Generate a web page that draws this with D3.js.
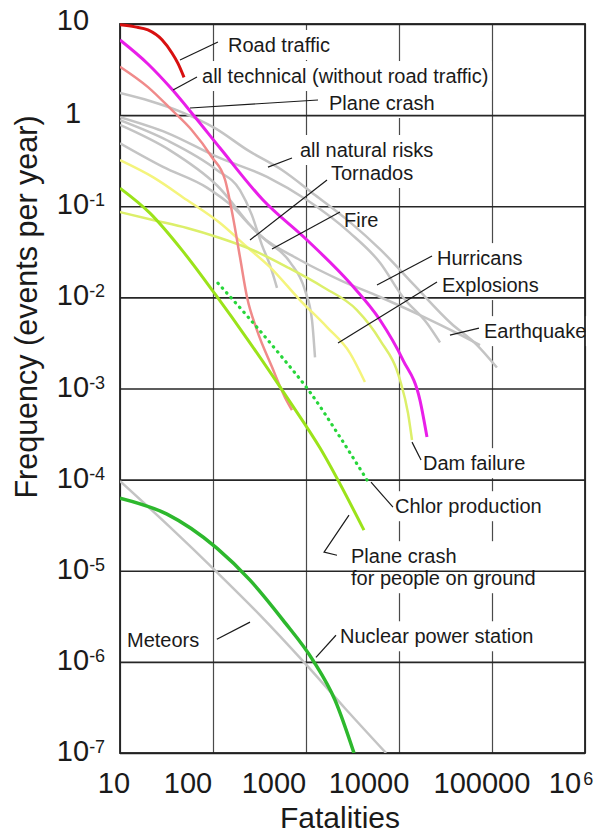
<!DOCTYPE html>
<html>
<head>
<meta charset="utf-8" />
<title>Frequency of fatal events</title>
<script src="https://cdn.jsdelivr.net/npm/d3@7"></script>
<style>
  body { margin:0; background:#fff; }
  svg { display:block; }
  text { font-family:"Liberation Sans", Arial, sans-serif; fill:#1a1a1a; }
</style>
</head>
<body>
<svg id="CHART" width="608" height="838"></svg>
<script>
// ---------------- data (fatalities, events per year) ----------------
var xTickValues = [10, 100, 1000, 10000, 100000, 1e6];
var xTickBase   = ["10", "100", "1000", "10000", "100000", "10"];
var xTickExp    = ["", "", "", "", "", "6"];

var yTickValues = [10, 1, 0.1, 0.01, 1e-3, 1e-4, 1e-5, 1e-6, 1e-7];
var yTickBase   = ["10", "1", "10", "10", "10", "10", "10", "10", "10"];
var yTickExp    = ["", "", "-1", "-2", "-3", "-4", "-5", "-6", "-7"];

var roadTraffic = [[10,9.8],[14.5,9.3],[20,8.6],[28.3,6.7],[36.2,4.8],[42,3.7],[48.8,2.6]];
var allTechnical = [[10,6.67],[20,3.64],[36,1.93],[64,0.953],[119,0.435],[345,0.117],[1025,0.0426],
  [2970,0.01435],[6250,0.00564],[11040,0.00205],[16800,0.000746],[20000,0.000293]];
var technicalOther = [[10,3.4],[20,2.03],[36,1.14],[59,0.686],[97,0.347],[135,0.194],[164,0.076],
  [195,0.0277],[232,0.0101],[297,0.00437],[431,0.00172],[594,0.0008],[707,0.00058]];
var planeCrash = [[10,1.75],[21,1.43],[46,1.08],[105,0.72],[238,0.41],[552,0.25],[1250,0.133],
  [2970,0.067],[6400,0.033],[14500,0.0137],[36200,0.0052],[69000,0.003],[113000,0.0017]];
var naturalRisks = [[10,0.95],[32,0.64],[110,0.35],[381,0.21],[1025,0.117],[2970,0.051],
  [6250,0.024],[11000,0.0101],[20000,0.0052],[27600,0.0032]];
var tornados = [[10,0.88],[32,0.53],[110,0.25],[195,0.15],[262,0.08],[336,0.0375],[410,0.0226],[488,0.0127]];
var fire = [[10,0.49],[29,0.27],[86,0.16],[164,0.098],[250,0.062],[362,0.043],[673,0.0244],
  [975,0.012],[1161,0.0056],[1250,0.0022]];
var hurricanes = [[10,0.78],[34.5,0.41],[110,0.17],[320,0.048],[861,0.0257],[2320,0.0155],
  [6250,0.0101],[16800,0.0064],[45300,0.0039],[74300,0.0030]];
var explosions = [[10,0.321],[22.6,0.209],[52.5,0.117],[119,0.0654],[232,0.0357],[410,0.0215],
  [861,0.00934],[1680,0.00472],[2970,0.00245],[4300,0.00118]];
var damFailure = [[10,0.0863],[22.6,0.0706],[52.5,0.0577],[119,0.0448],[269,0.033],[625,0.0215],
  [1520,0.013],[3530,0.00726],[6250,0.0034],[10250,0.00124],[12500,0.000537],[13800,0.000272]];
var planeGround = [[10,0.158],[21,0.084],[46.4,0.033],[105,0.0109],[238,0.0034],[640,0.00077],
  [1416,0.000222],[4200,2.79e-5]];
var chlorProduction = [[113,0.01435],[238,0.0061],[552,0.00221],[1104,0.000912],[2320,0.000293],
  [4530,9.9e-5]];
var nuclearPower = [[10,6.27e-5],[32,4.18e-5],[110,1.77e-5],[250,7.88e-6],[566,2.87e-6],
  [1189,1.04e-6],[2051,3.8e-7],[3280,1.0e-7]];
var meteors = [[10,9.64e-5],[34.5,3.01e-5],[110,9.66e-6],[320,3.26e-6],[950,9.93e-7],
  [2624,3.1e-7],[7250,1.0e-7]];

// labels: text, anchor point, leader line
var labelTexts = ["Road traffic", "all technical (without road traffic)", "Plane crash",
  "all natural risks", "Tornados", "Fire", "Hurricans", "Explosions", "Earthquake",
  "Dam failure", "Chlor production", "Plane crash|for people on ground",
  "Nuclear power station", "Meteors"];
var labelAt = [[145,4.93],[76.2,2.25],[1768,1.138],[861,0.347],[1856,0.194],[2565,0.0591],
  [25640,0.0226],[28990,0.01143],[82000,0.00357],[18130,0.000127],[9050,4.28e-5],
  [3047,1.21e-5],[2320,1.60e-6],[11.9,1.45e-6]];
var leaders = [
  [[44.2,4.03],[113,6.35]],
  [[37.2,1.886],[67.3,2.62]],
  [[56.6,1.197],[1346,1.465]],
  [[390,0.269],[707,0.338]],
  [[250,0.0426],[1683,0.194]],
  [[431,0.0339],[2320,0.0864]],
  [[5800,0.01365],[22650,0.0284]],
  [[2208,0.00315],[25640,0.01472]],
  [[35320,0.00386],[72400,0.0046]],
  [[13800,0.000258],[17260,0.000164]],
  [[5000,9.39e-5],[8610,4.99e-5]],
  [[2900,4.07e-5],[1563,1.60e-5],[2155,1.48e-5]],
  [[1280,1.12e-6],[2100,1.96e-6]],
  [[110,1.77e-6],[250,2.73e-6]]
];

// ---------------- series styling ----------------
var series = [
  {d: planeCrash,      c: "#c4c4c4", w: 2.5},
  {d: naturalRisks,    c: "#c4c4c4", w: 2.5},
  {d: tornados,        c: "#c4c4c4", w: 2.5},
  {d: fire,            c: "#c4c4c4", w: 2.5},
  {d: hurricanes,      c: "#c4c4c4", w: 2.5},
  {d: meteors,         c: "#c4c4c4", w: 2.5},
  {d: explosions,      c: "#f4f47c", w: 2.5},
  {d: damFailure,      c: "#dcef6a", w: 2.5},
  {d: technicalOther,  c: "#f08a8a", w: 2.5},
  {d: allTechnical,    c: "#e91ee9", w: 3},
  {d: roadTraffic,     c: "#d81010", w: 3},
  {d: planeGround,     c: "#9be31a", w: 3},
  {d: chlorProduction, c: "#27d63a", w: 3.2, dash: "0.5,6"},
  {d: nuclearPower,    c: "#2db82d", w: 3.5}
];

// ---------------- layout ----------------
var M = {l:120, r:585, t:24, b:753};
var svg = d3.select("#CHART");
svg.append("rect").attr("width", 608).attr("height", 838).attr("fill", "#fff");

var x = d3.scaleLog().domain([10, 1e6]).range([M.l, M.r]);
var y = d3.scaleLog().domain([1e-7, 10]).range([M.b, M.t]);

// vertical grid
var vGrid = svg.append("g").attr("transform", "translate(0," + M.b + ")")
  .call(d3.axisBottom(x).tickValues(xTickValues).tickSize(-(M.b - M.t)).tickFormat(""));
vGrid.select(".domain").remove();
vGrid.selectAll("line").attr("stroke", "#4a4a4a").attr("stroke-width", 1.2);

// white boxes behind labels (cut the vertical grid) go here
var boxLayer = svg.append("g");

// horizontal grid
var hGrid = svg.append("g").attr("transform", "translate(" + M.l + ",0)")
  .call(d3.axisLeft(y).tickValues(yTickValues).tickSize(-(M.r - M.l)).tickFormat(""));
hGrid.select(".domain").remove();
hGrid.selectAll("line").attr("stroke", "#262626").attr("stroke-width", 1.6);

svg.append("rect").attr("x", M.l).attr("y", M.t).attr("width", M.r - M.l).attr("height", M.b - M.t)
  .attr("fill", "none").attr("stroke", "#222").attr("stroke-width", 1.8);

// curves
var line = d3.line().x(function (d) { return x(d[0]); }).y(function (d) { return y(d[1]); })
  .curve(d3.curveMonotoneX);
svg.append("clipPath").attr("id", "plotclip").append("rect")
  .attr("x", M.l).attr("y", M.t - 2).attr("width", M.r - M.l).attr("height", M.b - M.t + 2);
svg.append("g").attr("clip-path", "url(#plotclip)")
  .selectAll("path").data(series).enter().append("path")
  .attr("d", function (s) { return line(s.d); })
  .attr("fill", "none")
  .attr("stroke", function (s) { return s.c; })
  .attr("stroke-width", function (s) { return s.w; })
  .attr("stroke-linecap", function (s) { return s.dash ? "round" : "butt"; })
  .attr("stroke-dasharray", function (s) { return s.dash || null; });

// leader lines
var leaderLine = d3.line().x(function (d) { return x(d[0]); }).y(function (d) { return y(d[1]); });
svg.append("g").selectAll("path").data(leaders).enter().append("path")
  .attr("d", leaderLine).attr("fill", "none").attr("stroke", "#1a1a1a").attr("stroke-width", 1.2);

// labels
var labels = svg.append("g").selectAll("text").data(labelTexts).enter().append("text")
  .attr("x", function (d, i) { return x(labelAt[i][0]); })
  .attr("y", function (d, i) { return y(labelAt[i][1]); })
  .attr("font-size", 20);
labels.each(function (d, i) {
  var parts = d.split("|");
  var t = d3.select(this);
  parts.forEach(function (p, j) {
    t.append("tspan").attr("x", x(labelAt[i][0])).attr("dy", j ? 22 : 0).text(p);
  });
});
labels.each(function () {
  var b = this.getBBox();
  boxLayer.append("rect").attr("x", b.x - 3).attr("y", b.y - 4)
    .attr("width", b.width + 6).attr("height", b.height + 8).attr("fill", "#fff");
});

// x tick labels
var xLabelShift = [-6, -25, -32, -30, -10, -20];
xTickValues.forEach(function (v, i) {
  var cx = x(v) + xLabelShift[i];
  var t = svg.append("text").attr("x", cx).attr("y", 793).attr("font-size", 29)
    .attr("text-anchor", "middle").text(xTickBase[i]);
  if (xTickExp[i]) {
    var w = t.node().getComputedTextLength();
    svg.append("text").attr("x", cx + w / 2 + 2).attr("y", 793 - 8).attr("font-size", 18).text(xTickExp[i]);
  }
});

// y tick labels
yTickValues.forEach(function (v, i) {
  var by = y(v) + 8;
  if (i === 0) by = y(v) + 6;
  var t = svg.append("text").attr("x", 73).attr("y", by).attr("font-size", 29)
    .attr("text-anchor", "middle").text(yTickBase[i]);
  if (yTickExp[i]) {
    var w = t.node().getComputedTextLength();
    svg.append("text").attr("x", 73 + w / 2).attr("y", by - 8).attr("font-size", 18).text(yTickExp[i]);
  }
});

// axis titles
svg.append("text").attr("x", 340).attr("y", 828).attr("font-size", 30)
  .attr("text-anchor", "middle").text("Fatalities");
svg.append("text").attr("transform", "translate(37,307) rotate(-90)").attr("font-size", 30.5)
  .attr("text-anchor", "middle").text("Frequency (events per year)");
</script>
</body>
</html>
